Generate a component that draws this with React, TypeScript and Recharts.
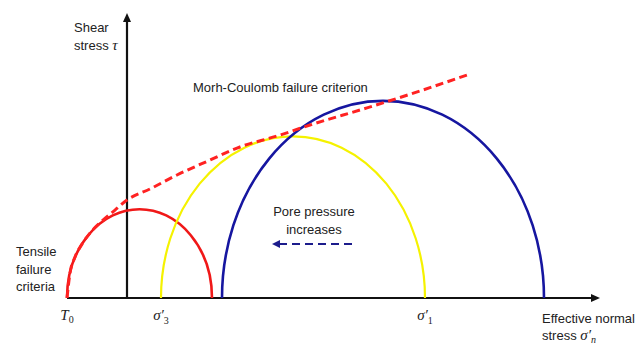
import { ComposedChart, Line, XAxis, YAxis, ReferenceLine } from 'recharts';

// Mohr circles: effective principal stresses sigma3' and sigma1' (MPa)
const circleSigma3 = [-3.0, 1.7, 4.75];
const circleSigma1 = [4.25, 14.9, 20.85];
const circleColors = ['#f01818', '#f5f200', '#1616a0'];
const circleWidths = [2.6, 2.2, 2.6];

// Mohr-Coulomb failure envelope, normal stress vs shear stress
const envelopeSigma = [-3.0, -2.85, -2.6, -2.25, -1.85, -1.2, -0.6, 0, 1.15, 2.5, 4.15, 5.5, 7.65, 9.15, 12.0, 14.65, 17.0];
const envelopeTau = [0, 1.02, 1.67, 2.2, 2.65, 3.18, 3.59, 4.0, 4.45, 5.02, 5.63, 6.12, 6.65, 7.06, 7.76, 8.45, 9.1];

// labelled stresses on the sigma axis: T0, sigma3', sigma1'
const tickValues = [-3.0, 1.7, 14.9];
const tickSymbols = ['T', 'σ', 'σ'];
const tickSubscripts = ['0', '3', '1'];

const envelope = envelopeSigma.map((s, i) => ({ s, t: envelopeTau[i] }));

const textFont = 'Liberation Sans, Arial, sans-serif';
const mathFont = 'Liberation Serif, DejaVu Serif, serif';
const textColor = '#222';

// half ellipse between the two base points (x1,y1) and (x2, y1), peak height from y2
const SemiCircle = (color: string, width: number) => (p: any) => {
  const rx = (p.x2 - p.x1) / 2;
  const ry = p.y1 - p.y2;
  return (
    <path
      d={`M ${p.x1} ${p.y1} A ${rx} ${ry} 0 0 1 ${p.x2} ${p.y1}`}
      fill="none"
      stroke={color}
      strokeWidth={width}
    />
  );
};

const Arrow = (color: string, width: number, dash: string | undefined, headLen: number, headHalf: number) => (p: any) => {
  const dx = p.x2 - p.x1;
  const dy = p.y2 - p.y1;
  const len = Math.sqrt(dx * dx + dy * dy);
  const ux = dx / len;
  const uy = dy / len;
  const bx = p.x2 - ux * headLen;
  const by = p.y2 - uy * headLen;
  return (
    <g>
      <line x1={p.x1} y1={p.y1} x2={bx} y2={by} stroke={color} strokeWidth={width} strokeDasharray={dash} />
      <polygon
        points={`${p.x2},${p.y2} ${bx - uy * headHalf},${by + ux * headHalf} ${bx + uy * headHalf},${by - ux * headHalf}`}
        fill={color}
      />
    </g>
  );
};

const StressTick = (props: any) => {
  const { x, y, payload } = props;
  const i = tickValues.indexOf(payload.value);
  if (i < 0) return null;
  const isSigma = tickSymbols[i] === 'σ';
  return (
    <text x={x} y={y + 14} textAnchor="middle" fontFamily={mathFont} fontStyle="italic" fontSize={15} fill={textColor}>
      {isSigma ? 'σ′' : tickSymbols[i]}
      <tspan fontSize={10} fontStyle="normal" dy={isSigma ? 4 : 3}>
        {tickSubscripts[i]}
      </tspan>
    </text>
  );
};

export default function App() {
  return (
    <div style={{ position: 'absolute', left: 0, top: 0, background: '#fff' }}>
      <ComposedChart width={643} height={346} margin={{ top: 4, right: 16, bottom: 18, left: 27 }}>
        <XAxis
          type="number"
          dataKey="s"
          domain={[-5, 25]}
          allowDataOverflow
          ticks={tickValues}
          interval={0}
          tick={(props: any) => <StressTick {...props} />}
          axisLine={false}
          tickLine={false}
          height={30}
        />
        <YAxis type="number" domain={[0, 12]} allowDataOverflow hide />

        {/* axes with arrow heads */}
        <ReferenceLine segment={[{ x: -3.0, y: 0 }, { x: 23.65, y: 0 }]} shape={Arrow('#111', 2.2, undefined, 9, 4)} />
        <ReferenceLine segment={[{ x: 0, y: 0 }, { x: 0, y: 11.63 }]} shape={Arrow('#111', 2.2, undefined, 9, 4)} />

        {circleSigma3.map((s3, i) => (
          <ReferenceLine
            key={i}
            segment={[{ x: s3, y: 0 }, { x: circleSigma1[i], y: (circleSigma1[i] - s3) / 2 }]}
            shape={SemiCircle(circleColors[i], circleWidths[i])}
          />
        ))}

        {/* pore pressure shift */}
        <ReferenceLine segment={[{ x: 11.25, y: 2.2 }, { x: 7.25, y: 2.2 }]} shape={Arrow('#1c1c8c', 2, '8 5', 8, 4)} />

        <Line
          data={envelope}
          dataKey="t"
          type="monotone"
          stroke="#ff2222"
          strokeWidth={3}
          strokeDasharray="8 4.5"
          dot={false}
          activeDot={false}
          isAnimationActive={false}
        />

        <g fontFamily={textFont} fontSize={13} fill={textColor}>
          <text x={74} y={32}>Shear</text>
          <text x={74} y={50}>stress <tspan fontFamily={mathFont} fontStyle="italic" fontSize={15}>τ</tspan></text>
          <text x={193} y={92}>Morh-Coulomb failure criterion</text>
          <text x={314} y={216} textAnchor="middle">Pore pressure</text>
          <text x={314} y={234} textAnchor="middle">increases</text>
          <text x={16} y={256}>Tensile</text>
          <text x={16} y={274}>failure</text>
          <text x={16} y={291}>criteria</text>
          <text x={542} y={323}>Effective normal</text>
          <text x={542} y={340}>
            stress{' '}
            <tspan fontFamily={mathFont} fontStyle="italic" fontSize={15}>σ′</tspan>
            <tspan fontFamily={mathFont} fontStyle="italic" fontSize={10} dy={3}>n</tspan>
          </text>
        </g>
      </ComposedChart>
    </div>
  );
}
